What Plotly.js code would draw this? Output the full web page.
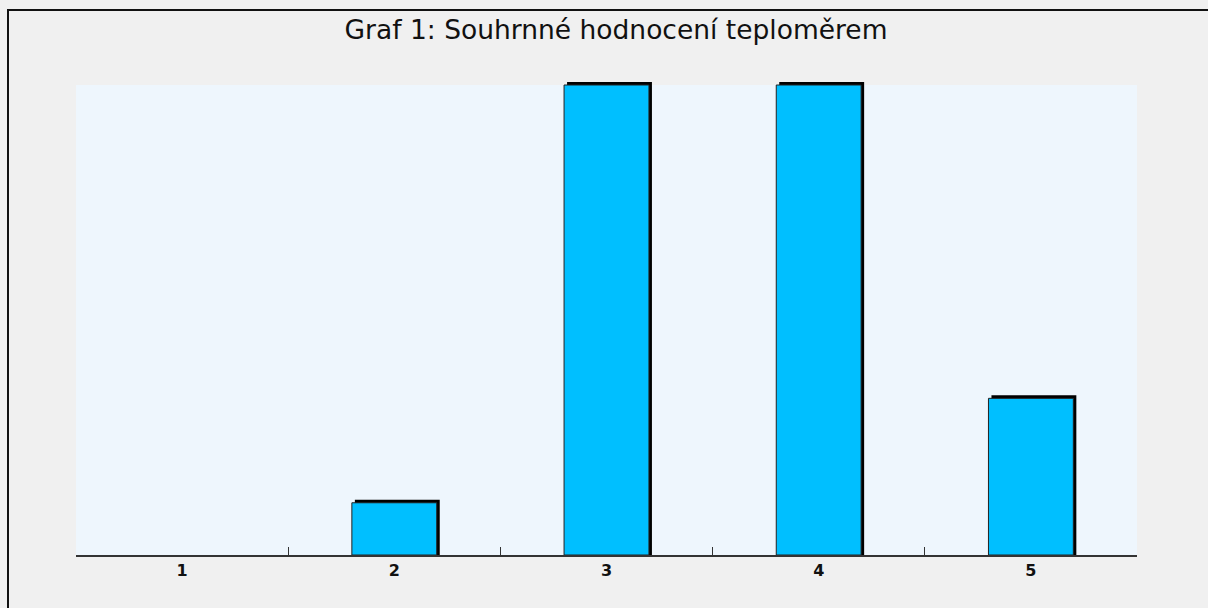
<!DOCTYPE html>
<html>
<head>
<meta charset="utf-8">
<script src="https://cdn.plot.ly/plotly-3.0.1.min.js"></script>
<style>html,body{margin:0;padding:0;background:#f0f0f0;}#chart{width:1208px;height:608px;}</style>
</head>
<body>
<div id="chart"></div>
<script>
const categories = ['1', '2', '3', '4', '5'];
const counts = [0, 1, 9, 9, 3];
const yMax = 9;
const chartTitle = 'Graf 1: Souhrnné hodnocení teploměrem';

const W = 1208, H = 608;
const M = {l: 76, r: 71, t: 82, b: 53};
const plotW = W - M.l - M.r, plotH = H - M.t - M.b;
const innerH = 470;                 // height of the light-blue plotting region
const pxPerUnit = innerH / yMax;
const yTop = plotH / pxPerUnit;     // small headroom so the shadow is visible
const barW = 0.4;
const dx = 3 / (plotW / categories.length);
const dy = 3 / pxPerUnit;

const shadow = {
  type: 'bar', x: categories,
  y: counts.map(v => v > 0 ? v + dy : null),
  width: barW, offset: -barW / 2 + dx,
  marker: {color: '#000000', line: {width: 0}},
  hoverinfo: 'skip', showlegend: false
};
const bars = {
  type: 'bar', x: categories,
  y: counts.map(v => v > 0 ? v : null),
  width: barW, offset: -barW / 2,
  marker: {color: '#00bfff', line: {width: 1, color: '#222'}},
  showlegend: false
};

const layout = {
  width: W, height: H,
  margin: M,
  paper_bgcolor: '#f0f0f0',
  plot_bgcolor: 'rgba(0,0,0,0)',
  barmode: 'overlay',
  title: {
    text: chartTitle,
    font: {family: 'DejaVu Sans, Verdana, sans-serif', size: 26.5, color: '#111'},
    x: 616 / W, xanchor: 'center', xref: 'container',
    y: 1 - 30 / H, yanchor: 'middle', yref: 'container'
  },
  xaxis: {
    type: 'category',
    range: [-0.5, categories.length - 0.5],
    showline: true, linecolor: '#333', linewidth: 2,
    ticks: 'inside', tickson: 'boundaries', ticklen: 8, tickcolor: '#333', tickwidth: 1,
    showgrid: false, zeroline: false,
    tickfont: {family: 'DejaVu Sans, Verdana, sans-serif', size: 16, color: '#111', weight: 'bold'},
    fixedrange: true
  },
  yaxis: {visible: false, range: [0, yTop], fixedrange: true, showgrid: false, zeroline: false},
  shapes: [{
    type: 'rect', xref: 'paper', yref: 'y', layer: 'below',
    x0: 0, x1: 1, y0: 0, y1: yMax,
    line: {width: 0}, fillcolor: '#eef6fd'
  }, {
    type: 'rect', xref: 'paper', yref: 'paper', layer: 'above',
    x0: (8 - M.l) / plotW, x1: (W + 20 - M.l) / plotW,
    y0: -(H + 20 - M.t - plotH) / plotH, y1: 1 + (M.t - 10) / plotH,
    line: {color: '#111', width: 2}, fillcolor: 'rgba(0,0,0,0)'
  }],
  hovermode: false
};

Plotly.newPlot('chart', [shadow, bars], layout, {displayModeBar: false, staticPlot: true});
</script>
</body>
</html>
